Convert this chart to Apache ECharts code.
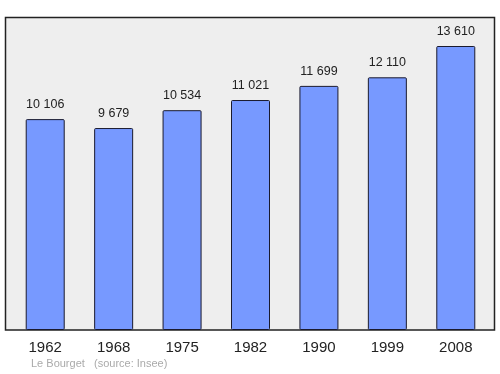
<!DOCTYPE html>
<html>
<head>
<meta charset="utf-8">
<script src="https://cdn.jsdelivr.net/npm/echarts@6/dist/echarts.min.js"></script>
<style>html,body{margin:0;padding:0;background:#fff;}#c{width:500px;height:374px;}</style>
</head>
<body>
<div id="c"></div>
<script>
var years = ['1962', '1968', '1975', '1982', '1990', '1999', '2008'];
var population = [10106, 9679, 10534, 11021, 11699, 12110, 13610];
var footerText = ['Le Bourget', '(source: Insee)'];

function fmt(v) {
  return String(v).replace(/\B(?=(\d{3})+(?!\d))/g, ' ');
}

var chart = echarts.init(document.getElementById('c'), null, {renderer: 'canvas'});
chart.setOption({
  animation: false,
  backgroundColor: '#ffffff',
  textStyle: {fontFamily: 'Liberation Sans, Arial, sans-serif'},
  graphic: [
    {type: 'rect', z: -10, shape: {x: 5.5, y: 17.5, width: 489, height: 312.5},
     style: {fill: '#eeeeee', stroke: '#222222', lineWidth: 1.5}},
    {type: 'text', left: 31, top: 358,
     style: {text: footerText[0], fill: '#aaaaaa', font: '11px Liberation Sans, Arial, sans-serif'}},
    {type: 'text', left: 94, top: 358,
     style: {text: footerText[1], fill: '#aaaaaa', font: '11px Liberation Sans, Arial, sans-serif'}}
  ],
  grid: {left: 11, right: 10, top: 17, bottom: 44, containLabel: false},
  xAxis: {
    type: 'category',
    data: years,
    axisLine: {show: false},
    axisTick: {show: false},
    axisLabel: {color: '#222222', fontSize: 15, margin: 10}
  },
  yAxis: {
    type: 'value', min: 0, max: 15000,
    show: false,
    splitLine: {show: false}
  },
  series: [{
    type: 'bar',
    data: population,
    barWidth: 39,
    itemStyle: {color: '#7799ff', borderColor: '#1a1a2e', borderWidth: 1, borderRadius: 1},
    label: {
      show: true, position: 'top', distance: 8,
      color: '#222222', fontSize: 12.5,
      formatter: function (p) { return fmt(p.value); }
    }
  }]
});
</script>
</body>
</html>
